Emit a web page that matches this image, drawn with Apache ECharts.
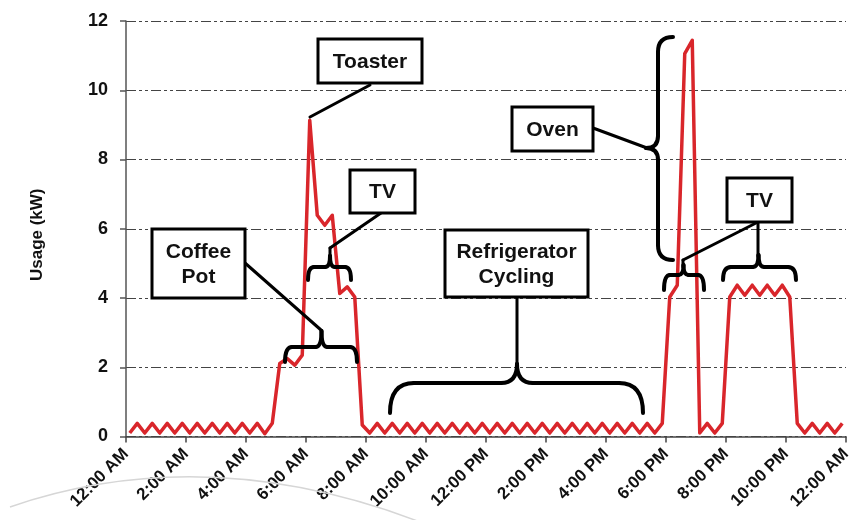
<!DOCTYPE html>
<html>
<head>
<meta charset="utf-8">
<script src="https://cdn.jsdelivr.net/npm/echarts@6/dist/echarts.min.js"></script>
<style>
html,body{margin:0;padding:0;background:#fff;}
#chart{width:855px;height:520px;}
</style>
</head>
<body>
<div id="chart"></div>
<script>
// ---- data (15-minute readings over one day, kW) ----
const usageKW = [
  0.1,0.38,0.1,0.38,0.1,0.38,0.1,0.38,0.1,0.38,0.1,0.38,0.1,0.38,0.1,0.38,0.1,0.38,
  0.08,0.38,2.11,2.25,2.06,2.35,9.13,6.39,6.1,6.39,4.13,4.32,4.03,0.33,
  0.1,0.38,0.1,0.38,0.1,0.38,0.1,0.38,0.1,0.38,0.1,0.38,0.1,0.38,0.1,0.38,0.1,0.38,0.1,0.38,
  0.1,0.38,0.1,0.38,0.1,0.38,0.1,0.38,0.1,0.38,0.1,0.38,0.1,0.38,0.1,0.38,0.1,0.38,0.1,
  0.38,4.03,4.37,11.06,11.44,0.1,0.38,0.1,0.38,4.03,4.37,4.08,4.37,4.08,4.37,4.08,4.37,4.03,
  0.38,0.1,0.38,0.1,0.38,0.1,0.38
];
const xTickLabels = ['12:00 AM','2:00 AM','4:00 AM','6:00 AM','8:00 AM','10:00 AM','12:00 PM',
  '2:00 PM','4:00 PM','6:00 PM','8:00 PM','10:00 PM','12:00 AM'];
const yAxisTitle = 'Usage (kW)';
const annotationTexts = ['Toaster','TV','Coffee\nPot','Refrigerator\nCycling','Oven','TV'];

// hour position of each 15-minute slot (centre of slot)
const seriesData = usageKW.map((v, i) => [(i + 0.5) / 4, v]);

const FONT = '"Liberation Sans", Arial, sans-serif';
const chart = echarts.init(document.getElementById('chart'), null, {renderer: 'canvas'});

const STROKE = {stroke: '#000', lineWidth: 3, lineCap: 'round', fill: null};
function box(x, y, w, h, text) {
  return [
    {type: 'rect', z: 10, shape: {x: x, y: y, width: w, height: h},
     style: {fill: '#fff', stroke: '#000', lineWidth: 3}},
    {type: 'text', z: 11, x: x + w / 2, y: y + h / 2 + 1,
     style: {text: text, align: 'center', verticalAlign: 'middle', fill: '#111',
             font: 'bold 21px ' + FONT, lineHeight: 25}}
  ];
}
function seg(x1, y1, x2, y2, w) {
  return {type: 'line', z: 9, shape: {x1: x1, y1: y1, x2: x2, y2: y2},
          style: Object.assign({}, STROKE, {lineWidth: w || 3})};
}
function qc(x1, y1, cx, cy, x2, y2, w) {
  return {type: 'bezierCurve', z: 9, shape: {x1: x1, y1: y1, cpx1: cx, cpy1: cy, x2: x2, y2: y2},
          style: Object.assign({}, STROKE, {lineWidth: w || 4})};
}
// horizontal brace opening downward
function hBrace(x1, x2, yEnd, yBar, xc, yCusp, r, rc) {
  return [
    qc(x1, yEnd, x1, yBar, x1 + r, yBar),
    seg(x1 + r, yBar, xc - rc, yBar, 4),
    qc(xc - rc, yBar, xc, yBar, xc, yCusp),
    qc(xc + rc, yBar, xc, yBar, xc, yCusp),
    seg(xc + rc, yBar, x2 - r, yBar, 4),
    qc(x2 - r, yBar, x2, yBar, x2, yEnd)
  ];
}
// vertical brace with cusp on the left
function vBrace(xEnd, xBar, yTop, yBot, yc, xCusp, r, rc) {
  return [
    qc(xEnd, yTop, xBar, yTop, xBar, yTop + r),
    seg(xBar, yTop + r, xBar, yc - rc, 4),
    qc(xBar, yc - rc, xBar, yc, xCusp, yc),
    qc(xBar, yc + rc, xBar, yc, xCusp, yc),
    seg(xBar, yc + rc, xBar, yBot - r, 4),
    qc(xBar, yBot - r, xBar, yBot, xEnd, yBot)
  ];
}

const graphics = [].concat(
  // faint arc at bottom
  [{type: 'bezierCurve', z: 1, shape: {x1: 10, y1: 507, cpx1: 205, cpy1: 440, x2: 420, y2: 522},
    style: {fill: null, stroke: '#d6d6d6', lineWidth: 1.5}}],
  // Toaster
  [seg(370, 85, 310, 117)], box(318, 39, 104, 44, annotationTexts[0]),
  // TV (morning)
  [seg(381, 213, 330, 248), seg(330, 248, 330, 258)],
  hBrace(308, 351, 280, 267, 330, 256, 6, 5),
  box(350, 170, 65, 43, annotationTexts[1]),
  // Coffee Pot
  [seg(245, 263, 321, 330)],
  hBrace(285, 357, 362, 347, 321.5, 331, 7, 6),
  box(152, 229, 93, 69, annotationTexts[2]),
  // Refrigerator cycling
  [seg(517, 297, 517, 366)],
  hBrace(390, 643, 413, 383, 517, 364, 24, 16),
  box(445, 230, 143, 67, annotationTexts[3]),
  // Oven
  [seg(593, 128, 647, 148)],
  vBrace(673, 658, 37, 260, 148, 646, 15, 12),
  box(512, 107, 81, 44, annotationTexts[4]),
  // TV (evening)
  [seg(758, 222, 683, 260), seg(683, 260, 683, 267)],
  hBrace(664, 704, 290, 275, 683.5, 265, 6, 5),
  [seg(758, 222, 758, 256)],
  hBrace(723, 796, 280, 267, 758.5, 255, 8, 6),
  box(727, 178, 65, 44, annotationTexts[5])
);

const option = {
  backgroundColor: '#fff',
  animation: false,
  grid: {left: 126, right: 9, top: 21, bottom: 83.5, containLabel: false},
  xAxis: {
    type: 'value', min: 0, max: 24, interval: 2,
    axisLine: {show: true, lineStyle: {color: '#444', width: 1.5}},
    axisTick: {show: true, length: 6, lineStyle: {color: '#444', width: 1.5}},
    splitLine: {show: false},
    axisLabel: {
      rotate: 45, margin: 15, color: '#111', fontWeight: 'bold', fontSize: 17, fontFamily: FONT,
      showMinLabel: true, showMaxLabel: true,
      formatter: v => xTickLabels[Math.round(v / 2)]
    }
  },
  yAxis: {
    type: 'value', min: 0, max: 12, interval: 2,
    name: yAxisTitle, nameLocation: 'middle', nameGap: 80, nameRotate: 90,
    nameTextStyle: {color: '#111', fontWeight: 'bold', fontSize: 17, fontFamily: FONT, padding: [0, 12, 0, 0]},
    axisLine: {show: true, lineStyle: {color: '#555', width: 1.5}},
    axisTick: {show: true, length: 6, lineStyle: {color: '#555', width: 1.5}},
    splitLine: {show: true, lineStyle: {color: '#444', width: 1, type: [10, 3, 3, 3, 3, 3]}},
    axisLabel: {margin: 18, color: '#111', fontWeight: 'bold', fontSize: 18, fontFamily: FONT}
  },
  series: [{
    type: 'line', data: seriesData, showSymbol: false, symbol: 'none',
    lineStyle: {color: '#d9262b', width: 3.5, join: 'round'},
    z: 5
  }],
  graphic: graphics
};
chart.setOption(option);
</script>
</body>
</html>
